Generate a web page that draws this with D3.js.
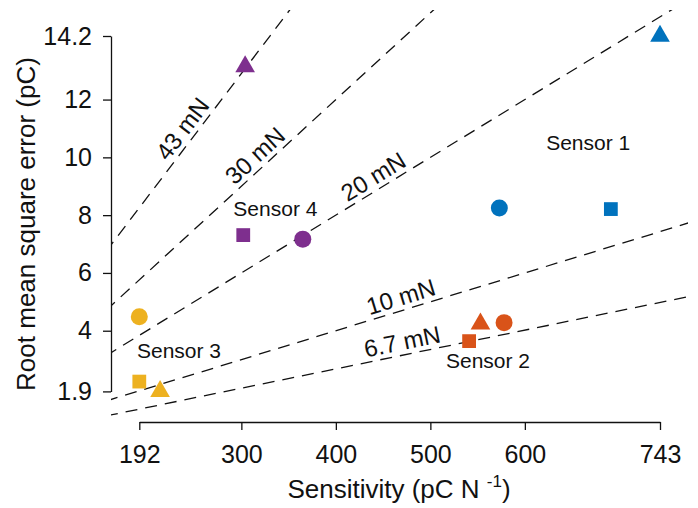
<!DOCTYPE html>
<html>
<head>
<meta charset="utf-8">
<script src="https://cdn.jsdelivr.net/npm/d3@7"></script>
<style>
  body { margin: 0; background: #fff; }
  svg { font-family: "Liberation Sans", Arial, sans-serif; }
</style>
</head>
<body>
<div id="chart"></div>
<script>
// tick labels (min and max of data are used as end ticks)
var xTicks = [192, 300, 400, 500, 600, 743];
var yTicks = [1.9, 4, 6, 8, 10, 12, 14.2];

// sensors and their points: [sensitivity pC/N, RMSE pC]
var sensors = ["Sensor 1", "Sensor 2", "Sensor 3", "Sensor 4"];
var colors = ["#0072BD", "#D95319", "#EDB120", "#7E2F8E"];
var circles = [[573, 8.25], [578, 4.28], [192, 4.48], [365, 7.17]];
var squares = [[691, 8.21], [541, 3.64], [192, 2.24], [302, 7.31]];
var triangles = [[743, 14.2], [553, 4.24], [214, 1.9], [304, 13.14]];
// where each sensor name sits
var sensorLabelPos = [[667, 10.25], [561, 2.71], [234, 3.05], [336, 7.97]];

// constant force lines: RMSE = sensitivity * force
var forces = [0.043, 0.030, 0.020, 0.010, 0.0067];
var forceLabels = ["43 mN", "30 mN", "20 mN", "10 mN", "6.7 mN"];
var forceLabelAt = [249, 324, 447, 473, 473];

var w = 698, h = 508;

var svg = d3.select("#chart").append("svg")
    .attr("width", w)
    .attr("height", h);

var x = d3.scaleLinear().domain([192, 743]).range([139.3, 660]);
var y = d3.scaleLinear().domain([1.9, 14.2]).range([391.4, 36]);

// plotting box used to clip the dashed lines
var box = {left: 111, right: 688, top: 10, bottom: 422};
svg.append("clipPath").attr("id", "clip")
    .append("rect")
    .attr("x", box.left).attr("y", box.top)
    .attr("width", box.right - box.left)
    .attr("height", box.bottom - box.top);

var lineG = svg.append("g").attr("clip-path", "url(#clip)");
var xs = [x.invert(box.left - 5), x.invert(box.right + 5)];
lineG.selectAll("line")
    .data(forces)
    .enter()
    .append("line")
    .attr("x1", x(xs[0]))
    .attr("x2", x(xs[1]))
    .attr("y1", function(f) { return y(f * xs[0]); })
    .attr("y2", function(f) { return y(f * xs[1]); })
    .attr("stroke", "#111")
    .attr("stroke-width", 1.3)
    .attr("stroke-dasharray", "12,8");

// force labels along the lines
forces.forEach(function(f, i) {
    var sx = forceLabelAt[i];
    var px = x(sx), py = y(f * sx);
    var ang = Math.atan2(y(f * (sx + 10)) - py, x(sx + 10) - px) * 180 / Math.PI;
    svg.append("text")
        .attr("transform", "translate(" + px + "," + py + ") rotate(" + ang + ")")
        .attr("y", -5)
        .attr("text-anchor", "middle")
        .attr("font-size", 24)
        .attr("fill", "#111")
        .text(forceLabels[i]);
});

// markers
function drawMarks(pts, type, size) {
    svg.append("g").selectAll("path")
        .data(pts)
        .enter()
        .append("path")
        .attr("d", d3.symbol().type(type).size(size))
        .attr("transform", function(d) { return "translate(" + x(d[0]) + "," + y(d[1]) + ")"; })
        .attr("fill", function(d, i) { return colors[i]; });
}
drawMarks(circles, d3.symbolCircle, 227);
drawMarks(squares, d3.symbolSquare, 190);
drawMarks(triangles, d3.symbolTriangle, 167);

svg.append("g").selectAll("text")
    .data(sensors)
    .enter()
    .append("text")
    .attr("x", function(d, i) { return x(sensorLabelPos[i][0]); })
    .attr("y", function(d, i) { return y(sensorLabelPos[i][1]); })
    .attr("text-anchor", "middle")
    .attr("font-size", 21)
    .attr("fill", "#111")
    .text(function(d) { return d; });

// axes
var xAxis = svg.append("g")
    .attr("transform", "translate(0," + box.bottom + ")")
    .call(d3.axisBottom(x).tickValues(xTicks).tickFormat(d3.format("")).tickSize(8).tickSizeOuter(0).tickPadding(15));
var yAxis = svg.append("g")
    .attr("transform", "translate(" + box.left + ",0)")
    .call(d3.axisLeft(y).tickValues(yTicks).tickFormat(d3.format("")).tickSize(8).tickSizeOuter(0).tickPadding(11));

[xAxis, yAxis].forEach(function(a) {
    a.selectAll("path, line").attr("stroke", "#111").attr("stroke-width", 1.3);
    a.selectAll("text").attr("font-size", 25).attr("fill", "#111")
        .attr("font-family", "Liberation Sans, Arial, sans-serif");
});

// axis titles
var xt = svg.append("text")
    .attr("x", 399)
    .attr("y", 498)
    .attr("text-anchor", "middle")
    .attr("font-size", 26)
    .attr("fill", "#111");
xt.append("tspan").text("Sensitivity (pC N ");
xt.append("tspan").attr("font-size", 17).attr("dy", -11).text("-1");
xt.append("tspan").attr("dy", 11).text(")");

svg.append("text")
    .attr("transform", "translate(35,224) rotate(-90)")
    .attr("text-anchor", "middle")
    .attr("font-size", 26)
    .attr("fill", "#111")
    .text("Root mean square error (pC)");
</script>
</body>
</html>
